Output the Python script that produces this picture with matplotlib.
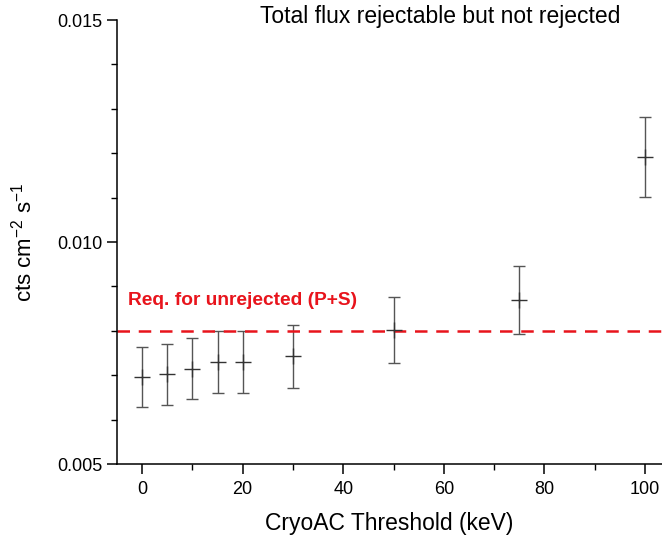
import matplotlib
matplotlib.use("Agg")
import matplotlib.pyplot as plt
from matplotlib.ticker import MultipleLocator

plt.rcParams['font.family'] = ['Liberation Sans', 'DejaVu Sans']
plt.rcParams['mathtext.fontset'] = 'custom'
plt.rcParams['mathtext.rm'] = 'Liberation Sans'

thresholds = [0, 5, 10, 15, 20, 30, 50, 75, 100]
flux = [0.00696, 0.00702, 0.00715, 0.00730, 0.00730, 0.00743, 0.00802, 0.00869, 0.01192]
flux_err = [0.00068, 0.00068, 0.00069, 0.00069, 0.00069, 0.00071, 0.00074, 0.00076, 0.00090]
requirement = 0.008

fig = plt.figure(figsize=(6.62, 5.38), dpi=100)
ax = fig.add_axes([0.1767, 0.1375, 0.8233, 0.8253])

ax.errorbar(thresholds, flux, yerr=flux_err, fmt='+', color='#333333', ecolor='#555555',
            markersize=11, markeredgewidth=1.0, elinewidth=1.0, capsize=4.5, capthick=1.0)
ax.axhline(requirement, color='#e8141c', linestyle=(0, (5, 3.5)), linewidth=1.8)
ax.text(-2.8, 0.00869, 'Req. for unrejected (P+S)', color='#e8141c', fontsize=13.8,
        fontweight='bold', ha='left', va='center')
ax.text(0.593, 1.007, 'Total flux rejectable but not rejected', transform=ax.transAxes,
        fontsize=16.5, ha='center', va='center')

ax.set_xlim(-5, 103.4)
ax.set_ylim(0.005, 0.015)
ax.xaxis.set_major_locator(MultipleLocator(20))
ax.xaxis.set_minor_locator(MultipleLocator(10))
ax.yaxis.set_major_locator(MultipleLocator(0.005))
ax.yaxis.set_minor_locator(MultipleLocator(0.001))
ax.yaxis.set_major_formatter(plt.FormatStrFormatter('%.3f'))

for s in ['top', 'right']:
    ax.spines[s].set_visible(False)
for s in ['left', 'bottom']:
    ax.spines[s].set_linewidth(1.1)
ax.tick_params(which='major', direction='out', length=7, width=1.1, labelsize=13)
ax.tick_params(which='minor', direction='out', length=4, width=1.0)
ax.tick_params(axis='x', which='major', pad=5)

ax.set_xlabel('CryoAC Threshold (keV)', fontsize=16.5)
ax.set_ylabel('cts cm$^{-2}$ s$^{-1}$', fontsize=16)
ax.xaxis.set_label_coords(0.5, -0.107)
ax.yaxis.set_label_coords(-0.147, 0.5)

fig.savefig('out.png', dpi=100)
